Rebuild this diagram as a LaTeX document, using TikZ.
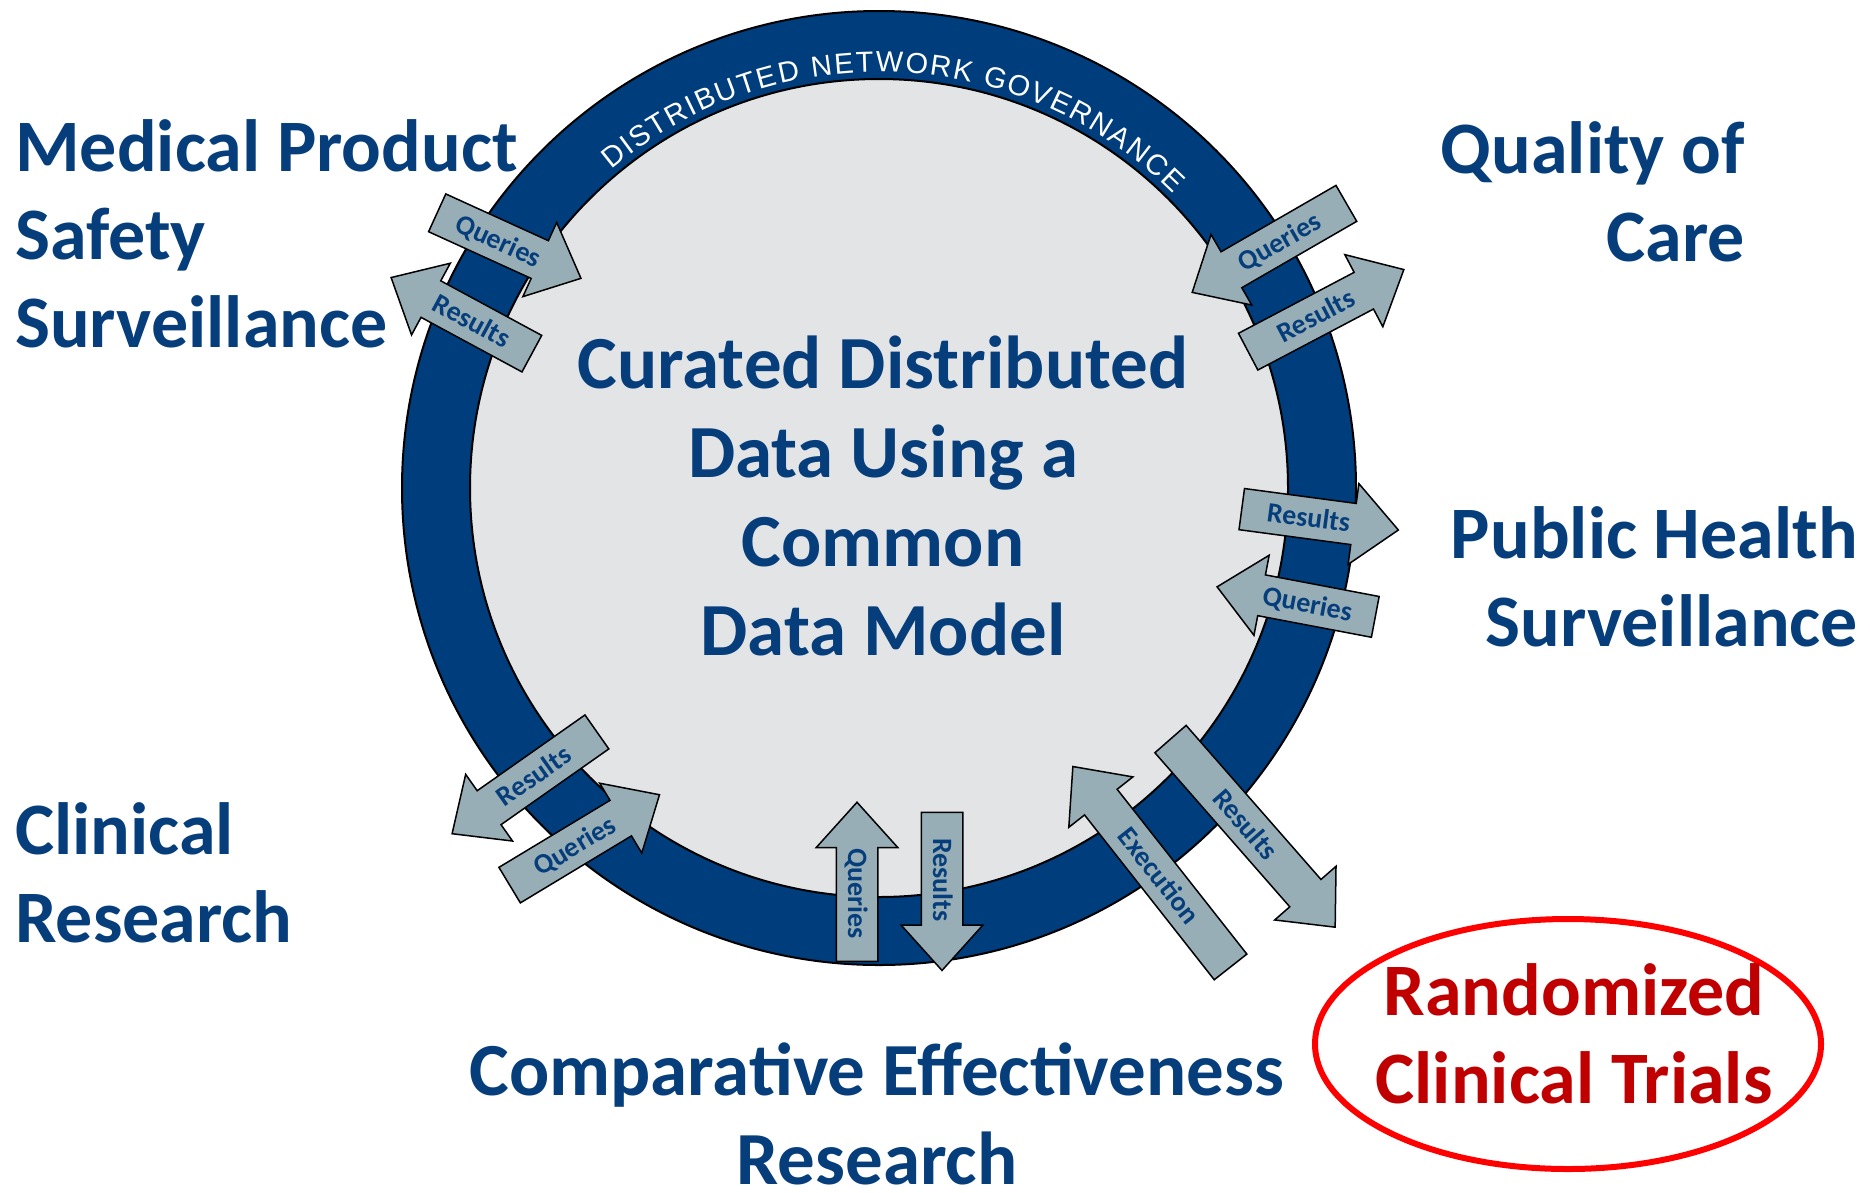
\documentclass[tikz,border=0pt]{standalone}
\usepackage{fontspec}
\setmainfont{Carlito}
\newfontfamily\govfont{Liberation Sans}
\usetikzlibrary{shapes.arrows,decorations.text}
\definecolor{ringblue}{RGB}{0,61,124}
\definecolor{labelblue}{RGB}{6,62,124}
\definecolor{coregray}{RGB}{227,228,230}
\definecolor{arrowgray}{RGB}{151,174,182}
\definecolor{trialred}{RGB}{192,0,0}

\begin{document}
\begin{tikzpicture}[x=1pt,y=1pt,
  areatext/.style={text=labelblue, font=\fontsize{74}{88}\selectfont\bfseries, inner sep=0pt},
  bigtext/.style={areatext, font=\fontsize{75}{89}\selectfont\bfseries},
  flowarrow/.style={single arrow, draw=black, line width=1.5pt, fill=arrowgray, text=labelblue,
    font=\fontsize{28}{28}\selectfont\bfseries, text height=18pt, text depth=0pt,
    inner ysep=11pt, inner xsep=2pt, single arrow head extend=20pt,
    single arrow tip angle=84, single arrow head indent=0pt, anchor=tail},
  back/.style={shape border rotate=180}]
\useasboundingbox (0,0) rectangle (1870,-1192);

\filldraw[fill=ringblue, draw=black, line width=2pt] (879,-488) circle (477);
\filldraw[fill=coregray, draw=black, line width=2pt] (879,-488) circle (409);
\path[decorate, decoration={text along path, text align=fit to path, text color=white,
  text={|\govfont\fontsize{29}{29}\selectfont|DISTRIBUTED NETWORK GOVERNANCE}}]
  (879,-488) ++(130:416) arc[start angle=130, end angle=45, radius=416];

\node[bigtext, align=center, anchor=base] (core) at (883,-655) {Curated Distributed\\Data Using a\\Common\\Data Model};

\node[flowarrow, rotate=-24.5, minimum height=158] (q1) at (436.5,-212.5) {Queries};
\node[flowarrow, back, rotate=-28.4, minimum height=160] (r1) at (532.5,-354) {Results};
\node[flowarrow, back, rotate=30, minimum height=178] (q2) at (1347,-203) {Queries};
\node[flowarrow, rotate=27.8, minimum height=176] (r2) at (1247.5,-352) {Results};
\node[flowarrow, rotate=-7.6, minimum height=158] (r3) at (1241,-509) {Results};
\node[flowarrow, back, rotate=-10.75, minimum height=161] (q3) at (1376,-617) {Queries};
\node[flowarrow, back, rotate=35.1, minimum height=177] (r4) at (597.5,-731.5) {Results};
\node[flowarrow, rotate=31.1, minimum height=175] (q4) at (509,-885.5) {Queries};
\node[flowarrow, back, rotate=-90, minimum height=159] (q5) at (857,-962) {Queries};
\node[flowarrow, rotate=-90, minimum height=158] (r5) at (942,-811.7) {Results};
\node[flowarrow, back, rotate=-51.8, minimum height=255] (e1) at (1231,-967.5) {Execution};
\node[flowarrow, rotate=-48.8, minimum height=250] (r6) at (1170,-738.5) {Results};

\node[areatext, align=left, anchor=base west] (mps) at (15,-347) {Medical Product\\Safety\\Surveillance};
\node[areatext, align=right, anchor=base east] (qoc) at (1745,-261) {Quality of\\Care};
\node[areatext, align=right, anchor=base east] (phs) at (1858,-646) {Public Health\\Surveillance};
\node[areatext, align=left, anchor=base west] (clr) at (15,-942) {Clinical\\Research};
\node[bigtext, align=center, anchor=base] (cer) at (877,-1184) {Comparative Effectiveness\\Research};

\draw[red, line width=6pt] (1568,-1044) ellipse [x radius=253, y radius=125];
\node[areatext, text=trialred, align=center, anchor=base] (rct) at (1574,-1103) {Randomized\\Clinical Trials};
\end{tikzpicture}
\end{document}
